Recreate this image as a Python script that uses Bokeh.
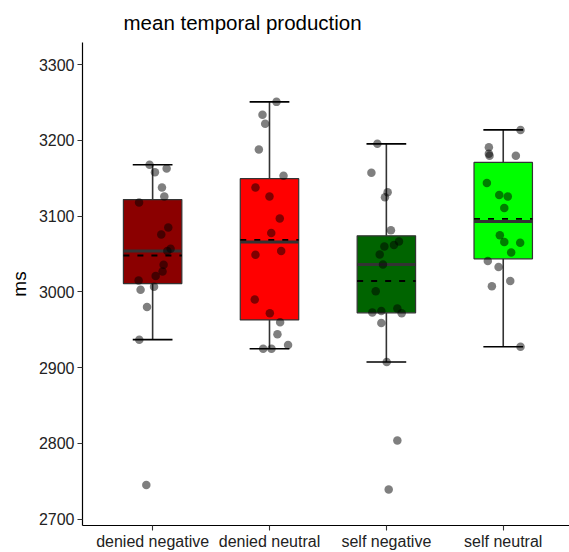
import numpy as np
from bokeh.plotting import figure
from bokeh.models import Range1d, FixedTicker, ColumnDataSource
from bokeh.embed import file_html
from bokeh.resources import INLINE

# ---- data ----
categories = ["denied negative", "denied neutral", "self negative", "self neutral"]
box_colors = ["#8B0000", "#FF0000", "#006400", "#00FF00"]

denied_negative = [3168, 3158, 3163, 3138, 3126, 3118, 3085, 3076, 3057, 3054,
                   3036, 3027, 3021, 3015, 3003, 3007, 2980, 2937, 2745]
denied_negative_jitter = [-0.026, 0.02, 0.12, 0.08, 0.10, -0.116, 0.134, 0.074, 0.154, 0.126,
                          0.094, 0.085, 0.026, -0.12, -0.103, 0.012, -0.048, -0.114, -0.054]

denied_neutral = [3251, 3234, 3222, 3188, 3153.5, 3138, 3126, 3097, 3078, 3049,
                  3054, 2990, 2972, 2960, 2944, 2930, 2925, 2925]
denied_neutral_jitter = [0.06, -0.06, -0.037, -0.091, 0.12, -0.12, 0.0, 0.088, 0.015, -0.12,
                         0.10, -0.126, 0.003, 0.091, 0.068, 0.159, -0.054, 0.017]

self_negative = [3195.6, 3157.5, 3131.6, 3125, 3081.6, 3066.7, 3062, 3060, 3049.6, 3036.4,
                 3001, 2978, 2973, 2975, 2972, 2959, 2907.5, 2804, 2739]
self_negative_jitter = [-0.077, -0.128, 0.011, -0.012, 0.039, 0.108, 0.065, -0.017, -0.057, -0.029,
                        -0.091, 0.094, -0.12, -0.043, 0.131, -0.043, 0.003, 0.094, 0.02]

self_neutral = [3214, 3191, 3182.5, 3180, 3180, 3144, 3128, 3126, 3111, 3075,
                3066, 3065, 3052, 3041, 3033, 3014.5, 3007.5, 2927.6]
self_neutral_jitter = [0.148, -0.123, -0.123, -0.117, 0.108, -0.14, -0.034, 0.039, 0.009, -0.029,
                       0.009, 0.145, 0.068, -0.132, -0.04, 0.06, -0.097, 0.148]

groups = [denied_negative, denied_neutral, self_negative, self_neutral]
jitters = [denied_negative_jitter, denied_neutral_jitter, self_negative_jitter, self_neutral_jitter]

y_ticks = [2700, 2800, 2900, 3000, 3100, 3200, 3300]

# ---- figure ----
p = figure(width=569, height=552, output_backend="svg", toolbar_location=None,
           x_range=Range1d(0.4, 4.567), y_range=Range1d(2691.6, 3329.4),
           min_border_left=82, min_border_right=0, min_border_top=42, min_border_bottom=26,
           title="mean temporal production")
p.background_fill_color = "white"
p.border_fill_color = "white"
p.outline_line_color = None
p.xgrid.visible = False
p.ygrid.visible = False

p.title.text_font = "Liberation Sans"
p.title.text_font_size = "20.5px"
p.title.text_font_style = "normal"
p.title.text_color = "black"
p.title.offset = 41
p.title.standoff = 17

BOX_W = 0.5
CAP_W = 0.34

xs_pos = [1, 2, 3, 4]
for i, (vals, jit) in enumerate(zip(groups, jitters)):
    x0 = xs_pos[i]
    arr = np.array(vals, dtype=float)
    q1, med, q3 = np.percentile(arr, [25, 50, 75])
    iqr = q3 - q1
    lo = arr[arr >= q1 - 1.5 * iqr].min()
    hi = arr[arr <= q3 + 1.5 * iqr].max()
    mean = arr.mean()
    # whiskers
    p.segment(x0=[x0, x0], y0=[q3, q1], x1=[x0, x0], y1=[hi, lo], line_color="#333333", line_width=1.6)
    p.segment(x0=[x0 - CAP_W / 2] * 2, y0=[hi, lo], x1=[x0 + CAP_W / 2] * 2, y1=[hi, lo],
              line_color="black", line_width=1.6)
    # box
    p.quad(left=x0 - BOX_W / 2, right=x0 + BOX_W / 2, bottom=q1, top=q3,
           fill_color=box_colors[i], line_color="#333333", line_width=1.2)
    # median
    p.segment(x0=x0 - BOX_W / 2, y0=med, x1=x0 + BOX_W / 2, y1=med, line_color="#333333", line_width=3)
    # mean
    p.segment(x0=x0 - BOX_W / 2, y0=mean, x1=x0 + BOX_W / 2, y1=mean, line_color="black",
              line_width=1.8, line_dash="6 8")

for i, (vals, jit) in enumerate(zip(groups, jitters)):
    src = ColumnDataSource(dict(x=[xs_pos[i] + j for j in jit], y=vals))
    p.scatter("x", "y", source=src, size=8.5, fill_color="black", fill_alpha=0.5, line_color=None)

# axes
for ax in (p.xaxis[0], p.yaxis[0]):
    ax.axis_line_color = "black"
    ax.axis_line_width = 1.2
    ax.major_tick_line_color = "#333333"
    ax.major_tick_line_width = 1.1
    ax.major_tick_out = 5
    ax.major_tick_in = 0
    ax.minor_tick_line_color = None
    ax.major_label_text_font = "Liberation Sans"
    ax.major_label_text_font_size = "16px"
    ax.major_label_text_color = "#222222"

p.xaxis.ticker = FixedTicker(ticks=xs_pos)
p.xaxis.major_label_overrides = {k: v for k, v in zip(xs_pos, categories)}
p.xaxis.major_label_standoff = 2
p.yaxis.ticker = FixedTicker(ticks=y_ticks)
p.yaxis.major_label_standoff = 3
p.yaxis.axis_label = "ms"
p.yaxis.axis_label_text_font = "Liberation Sans"
p.yaxis.axis_label_text_font_size = "19px"
p.yaxis.axis_label_text_font_style = "normal"
p.yaxis.axis_label_text_color = "black"
p.yaxis.axis_label_standoff = 6

open("out.html", "w").write(file_html(p, INLINE))
